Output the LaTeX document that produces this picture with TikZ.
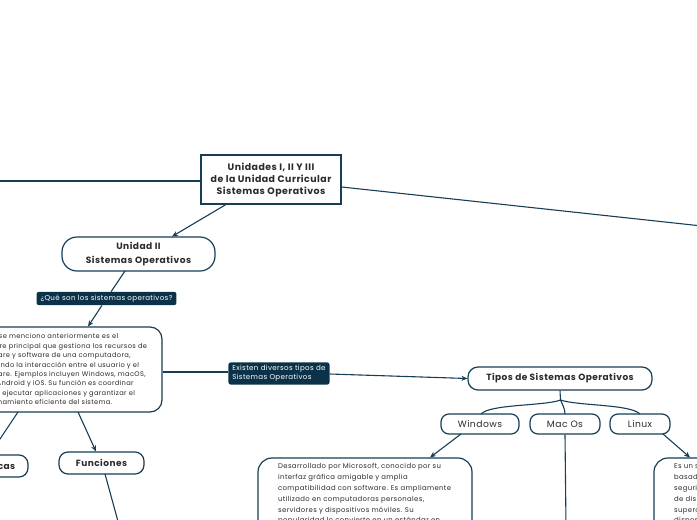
\documentclass[tikz,border=0pt]{standalone}
\usepackage{fontspec}
\setmainfont{Poppins}[LetterSpace=5]
\usetikzlibrary{arrows.meta}
\definecolor{dk}{HTML}{163E56}
\definecolor{lbl}{HTML}{0B3248}
\definecolor{txt}{HTML}{2B2B2B}
\tikzset{
  conn/.style={draw=dk, line width=1.1pt},
  arr/.style={conn, -{Stealth[length=6pt,width=5pt]}},
  rootbox/.style={draw=dk, line width=1.6pt, fill=white, text=txt, align=center, font=\fontsize{9.4}{12}\selectfont\bfseries, inner sep=0pt},
  topic/.style={draw=dk, line width=1.2pt, fill=white, text=txt, align=center, inner sep=0pt},
  labelbox/.style={fill=lbl, text=white, rounded corners=2.5pt, align=left, font=\fontsize{7.1}{9}\selectfont, inner xsep=4pt, inner ysep=3pt},
  desc/.style={align=left, inner sep=0pt, anchor=north west, text=txt},
}
\begin{document}
\begin{tikzpicture}[x=1pt,y=-1pt]
\useasboundingbox (0,0) rectangle (697,520);
\clip (0,0) rectangle (697,520);

% root
\node[rootbox, minimum width=140pt, minimum height=49pt] (root) at (271,179.5)
  {Unidades I, II Y III\\de la Unidad Curricular\\Sistemas Operativos};
\coordinate (leftend) at (-5,181);
\coordinate (rightend) at (702,226);

% Unidad II
\node[topic, rounded corners=15pt, minimum width=153pt, minimum height=34pt,
  font=\fontsize{9.1}{14}\selectfont\bfseries] (u2) at (138.5,254) {Unidad II\\Sistemas Operativos};

% label que son
\node[labelbox] (q) at (106.5,298.5) {¿Qué son los sistemas operativos?};

% description box (left cut)
\node[topic, rounded corners=12pt, minimum width=240pt, minimum height=85pt] (d1) at (42,369.5) {};
\node[desc, font=\fontsize{6.7}{9.4}\selectfont] (d1t) at (-25,333.5) {Como se menciono anteriormente es el\\
software principal que gestiona los recursos de\\
hardware y software de una computadora,\\
facilitando la interacción entre el usuario y el\\
hardware. Ejemplos incluyen Windows, macOS,\\
Linux, Android y iOS. Su función es coordinar\\
tareas, ejecutar aplicaciones y garantizar el\\
funcionamiento eficiente del sistema.};

% label existen
\node[labelbox] (ex) at (279,373.5) {Existen diversos tipos de\\Sistemas Operativos};

% Tipos
\node[topic, rounded corners=10pt, minimum width=184pt, minimum height=23pt,
  font=\fontsize{9}{11}\selectfont\bfseries] (tipos) at (560,378.5) {Tipos de Sistemas Operativos};

% children
\node[topic, rounded corners=8pt, minimum width=78pt, minimum height=20pt,
  font=\fontsize{9.2}{11}\selectfont] (win) at (480,424) {Windows};
\node[topic, rounded corners=8pt, minimum width=70pt, minimum height=20pt,
  font=\fontsize{9.2}{11}\selectfont] (mac) at (565,424) {Mac Os};
\node[topic, rounded corners=8pt, minimum width=60pt, minimum height=20pt,
  font=\fontsize{9.2}{11}\selectfont] (lin) at (640,424) {Linux};

% Windows description
\node[topic, rounded corners=14pt, minimum width=214pt, minimum height=110pt] (wd) at (365,513) {};
\node[desc, font=\fontsize{6.9}{10.8}\selectfont] (wdt) at (278,463.5) {Desarrollado por Microsoft, conocido por su\\
interfaz gráfica amigable y amplia\\
compatibilidad con software. Es ampliamente\\
utilizado en computadoras personales,\\
servidores y dispositivos móviles. Su\\
popularidad lo convierte en un estándar en};

% Linux description
\node[topic, rounded corners=14pt, minimum width=120pt, minimum height=110pt] (ld) at (714,513) {};
\node[desc, font=\fontsize{6.9}{10.8}\selectfont] (ldt) at (674,463.5) {Es un sistema operativo\\
basado en Unix, con\\
seguridad y estabilidad\\
de dispositivos, desde\\
supercomputadoras hasta\\
dispositivos móviles};

% Funciones
\node[topic, rounded corners=9pt, minimum width=85pt, minimum height=22pt,
  font=\fontsize{9}{11}\selectfont\bfseries] (fun) at (101.5,463) {Funciones};
% Caracteristicas (cut)
\node[topic, rounded corners=9pt, minimum width=104pt, minimum height=22pt,
  font=\fontsize{9}{11}\selectfont\bfseries] (car) at (-24,466) {Características};

\coordinate (macend) at (566,525);
\coordinate (funend) at (119,525);

% connectors
\draw[conn] (root.west |- 0,181) -- (leftend);
\draw[conn] (root.east |- 0,187) -- (rightend);
\draw[arr] (226,204.5) -- (172,236.5);
\draw[conn] (125,271) -- (q);
\draw[arr] (q) -- (88,326.5);
\draw[conn] (d1.east |- 0,372) -- (ex.west |- 0,372);
\draw[arr] (ex.east |- 0,374) -- (tipos.west);
\draw[conn] (tipos.south) -- (560.5,400) coordinate (br);
\draw[conn] (br) .. controls (545,406) and (490,404) .. (481,414);
\draw[conn] (br) .. controls (562,404) and (565,408) .. (565,414);
\draw[conn] (br) .. controls (578,406) and (630,404) .. (640,414);
\draw[arr] (461,434) -- (430,457.5);
\draw[conn] (mac.south) -- (macend);
\draw[arr] (663,434) -- (690,457.5);
\draw[arr] (78,412) -- (96,451.5);
\draw[arr] (18,412) -- (-12,457);
\draw[conn] (105,474) -- (funend);
\end{tikzpicture}
\end{document}
